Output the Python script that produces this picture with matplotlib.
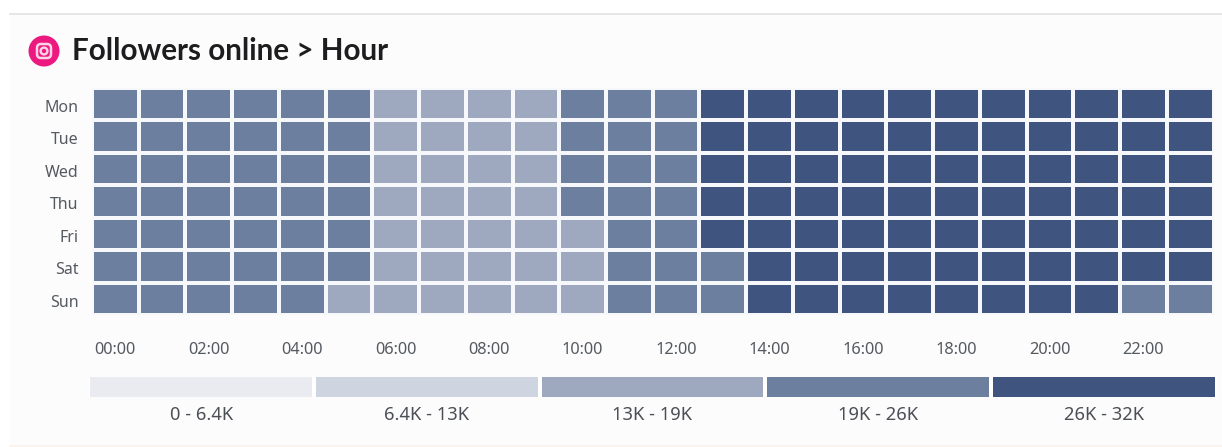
import matplotlib
matplotlib.use("Agg")
import matplotlib.pyplot as plt
import numpy as np
from matplotlib.colors import ListedColormap, BoundaryNorm
from matplotlib.patches import Circle, FancyBboxPatch, Rectangle
from matplotlib.transforms import ScaledTranslation

W, H = 1222, 447
plt.rcParams['font.family'] = ['Noto Sans', 'DejaVu Sans']

title = "Followers online > Hour"
days = ["Mon", "Tue", "Wed", "Thu", "Fri", "Sat", "Sun"]
hour_labels = ["00:00", "02:00", "04:00", "06:00", "08:00", "10:00",
               "12:00", "14:00", "16:00", "18:00", "20:00", "22:00"]
mon = [22, 22, 22, 22, 22, 22, 16, 16, 16, 16, 22, 22, 23, 29, 29, 30, 30, 30, 30, 30, 30, 29, 29, 29]
tue = [22, 22, 22, 22, 22, 22, 16, 16, 16, 16, 22, 22, 23, 29, 29, 30, 30, 30, 30, 30, 30, 29, 29, 29]
wed = [22, 22, 22, 22, 22, 22, 16, 16, 16, 16, 22, 22, 23, 29, 29, 30, 30, 30, 30, 30, 30, 29, 29, 29]
thu = [22, 22, 22, 22, 22, 22, 16, 16, 16, 16, 21, 22, 23, 29, 29, 30, 30, 30, 30, 30, 30, 29, 29, 29]
fri = [22, 22, 22, 22, 22, 22, 16, 16, 16, 16, 18, 21, 23, 29, 29, 30, 30, 30, 30, 30, 30, 29, 29, 29]
sat = [22, 22, 22, 22, 22, 22, 16, 16, 16, 16, 18, 21, 23, 25, 28, 30, 30, 30, 30, 30, 30, 29, 29, 28]
sun = [22, 22, 22, 22, 22, 18, 16, 16, 16, 16, 18, 21, 23, 25, 28, 30, 30, 30, 30, 30, 30, 28, 25, 25]
matrix = np.array([mon, tue, wed, thu, fri, sat, sun])

bin_edges = [0, 6.4, 13, 19, 26, 32]
bin_labels = ["0 - 6.4K", "6.4K - 13K", "13K - 19K", "19K - 26K", "26K - 32K"]
bin_colors = ["#e9ebf0", "#ced5e0", "#9ea9c0", "#6c7f9e", "#3f5580"]
bg = "#fcfcfc"
gap = "#f6f8fb"

def axpx(x0, y0, x1, y1, **kw):
    return fig.add_axes([x0 / W, 1 - y1 / H, (x1 - x0) / W, (y1 - y0) / H], **kw)

fig = plt.figure(figsize=(W / 100, H / 100), dpi=100, facecolor="white")

# card background
fig.add_artist(Rectangle((10 / W, 0), 1 - 10 / W, 1 - 13 / H, transform=fig.transFigure,
                         fc=bg, ec="none", zorder=-5))
fig.add_artist(plt.Line2D([10 / W, 1], [1 - 13.5 / H] * 2, color="#e2e2e2", lw=1.2, zorder=-4))
fig.add_artist(plt.Line2D([10 / W, 1], [1 / H] * 2, color="#fbf3ee", lw=2, zorder=-4))

# heat map
ax = axpx(92, 87.5, 1213.5, 315)
cmap = ListedColormap(bin_colors)
norm = BoundaryNorm(bin_edges, cmap.N)
ax.pcolormesh(np.arange(25), np.arange(8), matrix, cmap=cmap, norm=norm,
              edgecolors=gap, linewidth=1.7)
ax.set_xlim(0, 24)
ax.set_ylim(7, 0)
for s in ax.spines.values():
    s.set_visible(False)
ax.set_facecolor(bg)
ax.set_yticks(np.arange(7) + 0.5, days)
ax.set_xticks(np.arange(0, 24, 2) + 0.5, hour_labels)
ax.tick_params(length=0, labelsize=11.5, labelcolor="#555a60")
ax.tick_params(axis="y", pad=9.5)
ax.tick_params(axis="x", pad=19.5, labelsize=11.8)
shift = ScaledTranslation(0, -2 / 100, fig.dpi_scale_trans)
for t in ax.get_yticklabels():
    t.set_transform(t.get_transform() + shift)

# legend
lax = axpx(88.5, 377, 1216.5, 397)
lax.bar(np.arange(5), [1] * 5, width=0.984, color=bin_colors, align="center")
lax.set_xlim(-0.5, 4.5)
lax.set_ylim(0, 1)
for s in lax.spines.values():
    s.set_visible(False)
lax.set_yticks([])
lax.set_xticks(np.arange(5), bin_labels)
lax.tick_params(length=0, labelsize=13.2, labelcolor="#4c4f55", pad=6.5)

# title and icon
fig.text(72 / W, 1 - 51 / H, title, fontsize=21.3, fontweight="bold", color="#1d1d1f",
         family=["Lato", "DejaVu Sans"], va="center", ha="left")
iax = axpx(28, 35, 60, 67)
iax.set_xlim(0, 32)
iax.set_ylim(32, 0)
iax.axis("off")
iax.add_patch(Circle((16, 16), 15.5, fc="#ec1a80", ec="none"))
iax.add_patch(FancyBboxPatch((9, 9), 14, 14, boxstyle="round,pad=0,rounding_size=4",
                             fc="none", ec="#fbd3e6", lw=1.8))
iax.add_patch(Circle((16, 16), 3.4, fc="none", ec="#fbd3e6", lw=1.7))

fig.savefig("out.png", dpi=100, facecolor="white")
